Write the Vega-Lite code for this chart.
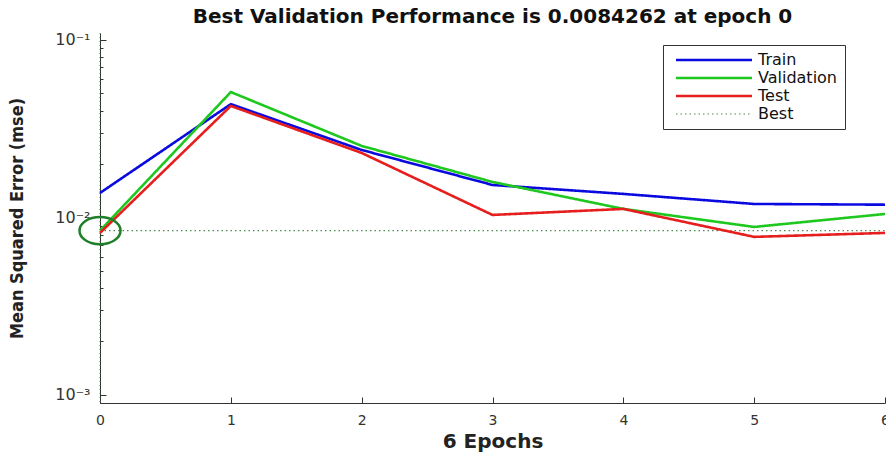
{
  "$schema": "https://vega.github.io/schema/vega-lite/v6.json",
  "autosize": {"type": "none"},
  "padding": {"left": 100, "top": 33, "right": 1, "bottom": 50},
  "width": 785,
  "height": 370,
  "background": "white",
  "config": {
    "view": {"stroke": null},
    "font": "DejaVu Sans"
  },
  "title": {
    "text": "Best Validation Performance is 0.0084262 at epoch 0",
    "font": "DejaVu Sans",
    "fontSize": 20,
    "fontWeight": "bold",
    "color": "#111",
    "anchor": "middle",
    "offset": 5
  },
  "datasets": {
    "perf": [
      {"epoch": 0, "mse": 0.01374, "series": "Train"},
      {"epoch": 1, "mse": 0.0435, "series": "Train"},
      {"epoch": 2, "mse": 0.0240, "series": "Train"},
      {"epoch": 3, "mse": 0.01524, "series": "Train"},
      {"epoch": 4, "mse": 0.01357, "series": "Train"},
      {"epoch": 5, "mse": 0.01191, "series": "Train"},
      {"epoch": 6, "mse": 0.0118, "series": "Train"},
      {"epoch": 0, "mse": 0.0084262, "series": "Validation"},
      {"epoch": 1, "mse": 0.0509, "series": "Validation"},
      {"epoch": 2, "mse": 0.0253, "series": "Validation"},
      {"epoch": 3, "mse": 0.01585, "series": "Validation"},
      {"epoch": 4, "mse": 0.01117, "series": "Validation"},
      {"epoch": 5, "mse": 0.00884, "series": "Validation"},
      {"epoch": 6, "mse": 0.01046, "series": "Validation"},
      {"epoch": 0, "mse": 0.00818, "series": "Test"},
      {"epoch": 1, "mse": 0.0425, "series": "Test"},
      {"epoch": 2, "mse": 0.02309, "series": "Test"},
      {"epoch": 3, "mse": 0.01033, "series": "Test"},
      {"epoch": 4, "mse": 0.01117, "series": "Test"},
      {"epoch": 5, "mse": 0.00777, "series": "Test"},
      {"epoch": 6, "mse": 0.00818, "series": "Test"}
    ],
    "bestline": [
      {"epoch": 0, "mse": 0.0084262, "series": "Best"},
      {"epoch": 6, "mse": 0.0084262, "series": "Best"}
    ],
    "best": [
      {"epoch": 0, "mse": 0.0084262}
    ]
  },
  "encoding": {
    "x": {
      "field": "epoch",
      "type": "quantitative",
      "scale": {"domain": [0, 6], "nice": false, "zero": false},
      "axis": {
        "values": [0, 1, 2, 3, 4, 5, 6],
        "format": "d",
        "title": "6 Epochs",
        "titleFont": "DejaVu Sans",
        "titleFontSize": 20,
        "titleFontWeight": "bold",
        "titleColor": "#222",
        "titlePadding": 4,
        "labelFont": "DejaVu Sans",
        "labelFontSize": 14,
        "labelColor": "#333",
        "labelPadding": 16,
        "tickSize": -6,
        "tickColor": "#333",
        "domainColor": "#333",
        "grid": false,
        "labelFlush": false
      }
    },
    "y": {
      "field": "mse",
      "type": "quantitative",
      "scale": {"type": "log", "domain": [0.0009, 0.1095], "nice": false, "zero": false},
      "axis": {
        "values": [0.001, 0.002, 0.003, 0.004, 0.005, 0.006, 0.007, 0.008, 0.009, 0.01, 0.02, 0.03, 0.04, 0.05, 0.06, 0.07, 0.08, 0.09, 0.1],
        "labelExpr": "abs(log(datum.value)/LN10 + 1) < 0.001 ? '10⁻¹' : abs(log(datum.value)/LN10 + 2) < 0.001 ? '10⁻²' : abs(log(datum.value)/LN10 + 3) < 0.001 ? '10⁻³' : ''",
        "title": "Mean Squared Error  (mse)",
        "titleFont": "DejaVu Sans Condensed, Liberation Sans Narrow, Liberation Sans",
        "titleFontSize": 18,
        "titleFontWeight": "bold",
        "titleColor": "#222",
        "titlePadding": 28,
        "labelFont": "DejaVu Sans",
        "labelFontSize": 16,
        "labelColor": "#333",
        "labelPadding": 16,
        "tickSize": {"condition": {"test": "abs(log(datum.value)/LN10 - round(log(datum.value)/LN10)) < 0.001", "value": -6}, "value": -3},
        "tickColor": "#333",
        "domainColor": "#333",
        "grid": false,
        "labelFlush": false,
        "labelOverlap": false
      }
    }
  },
  "layer": [
    {
      "data": {"name": "best"},
      "mark": {"type": "rule", "color": "#2f8f2f", "strokeWidth": 1, "strokeDash": [1, 3]},
      "encoding": {
        "y": null
      }
    },
    {
      "data": {"name": "bestline"},
      "mark": {"type": "line", "strokeWidth": 1.2},
      "encoding": {
        "color": {"field": "series", "type": "nominal"},
        "strokeDash": {"field": "series", "type": "nominal"}
      }
    },
    {
      "data": {"name": "perf"},
      "mark": {"type": "line", "strokeWidth": 2.6},
      "encoding": {
        "color": {
          "field": "series",
          "type": "nominal",
          "scale": {"domain": ["Train", "Validation", "Test", "Best"], "range": ["#0a0ae0", "#1ec81e", "#e61e1e", "#4f8a4f"]},
          "legend": {
            "title": null,
            "orient": "none",
            "legendX": 563,
            "legendY": 12,
            "symbolType": "stroke",
            "symbolSize": 5776,
            "symbolOffset": 36,
            "labelFont": "DejaVu Sans",
            "labelFontSize": 16,
            "labelColor": "#111",
            "labelOffset": 36,
            "rowPadding": 2,
            "padding": 7,
            "fillColor": "white",
            "strokeColor": "#333",
            "cornerRadius": 0,
            "encode": {"symbols": {"update": {"strokeWidth": {"signal": "datum.value === 'Best' ? 1 : 2.6"}}}}
          }
        },
        "strokeDash": {
          "field": "series",
          "type": "nominal",
          "scale": {"domain": ["Train", "Validation", "Test", "Best"], "range": [[1, 0], [1, 0], [1, 0], [1.5, 3]]}
        }
      }
    },
    {
      "data": {"name": "best"},
      "mark": {"type": "point", "shape": "M-1,0A1,0.66 0 1,0 1,0A1,0.66 0 1,0 -1,0", "filled": false, "size": 1681, "strokeWidth": 2.5, "color": "#1f7f2a", "opacity": 1}
    }
  ]
}
